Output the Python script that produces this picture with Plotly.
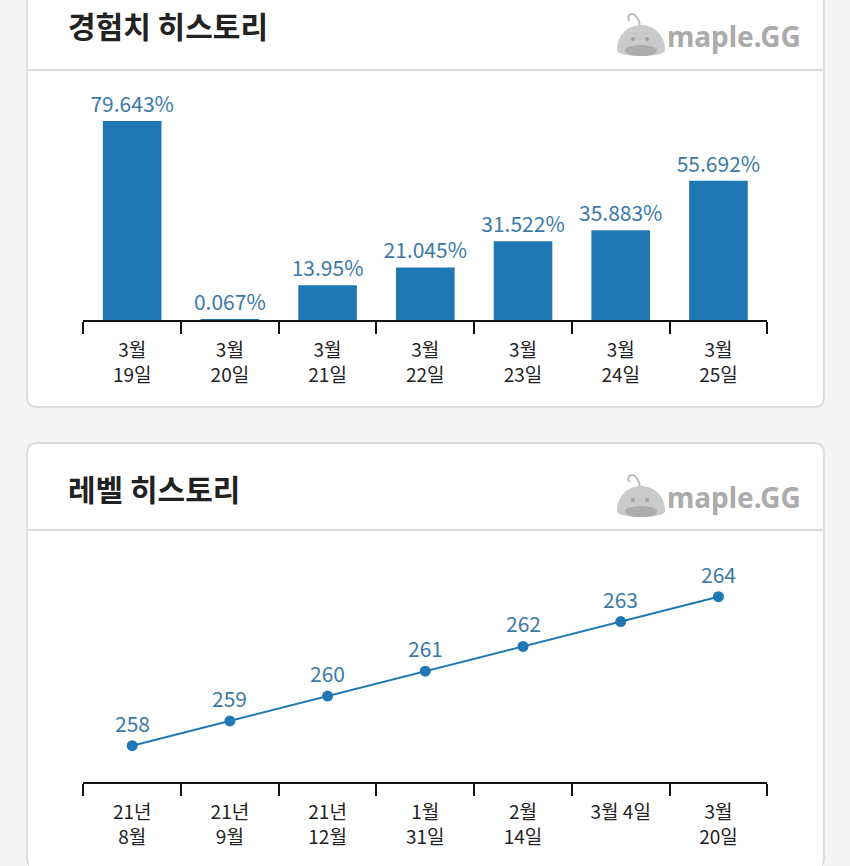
import plotly.graph_objects as go

W, H = 850, 866

# ---- data ----
exp_dates = ["3월<br>19일", "3월<br>20일", "3월<br>21일", "3월<br>22일",
             "3월<br>23일", "3월<br>24일", "3월<br>25일"]
exp_values = [79.643, 0.067, 13.95, 21.045, 31.522, 35.883, 55.692]
exp_labels = ["79.643%", "0.067%", "13.95%", "21.045%", "31.522%", "35.883%", "55.692%"]

level_dates = ["21년<br>8월<br>20일", "21년<br>9월<br>10일", "21년<br>12월<br>17일",
               "1월<br>31일", "2월<br>14일", "3월 4일", "3월<br>20일"]
level_values = [258, 259, 260, 261, 262, 263, 264]

title_exp = "경험치 히스토리"
title_level = "레벨 히스토리"
logo_text = "maple.GG"

# ---- styles ----
FONT = "Noto Sans CJK KR"
BAR_COLOR = "#1f77b4"
LABEL_COLOR = "#3b79a8"
PAGE_BG = "#f4f4f4"
BORDER = "#dcdcdc"


def px(x):
    return x / W


def py(y):
    return 1 - y / H


def pt(x, y):
    return f"{px(x)},{py(y)}"


def rounded_rect(x0, y0, x1, y1, r):
    return (f"M {pt(x0 + r, y0)} L {pt(x1 - r, y0)} "
            f"Q {pt(x1, y0)} {pt(x1, y0 + r)} L {pt(x1, y1 - r)} "
            f"Q {pt(x1, y1)} {pt(x1 - r, y1)} L {pt(x0 + r, y1)} "
            f"Q {pt(x0, y1)} {pt(x0, y1 - r)} L {pt(x0, y0 + r)} "
            f"Q {pt(x0, y0)} {pt(x0 + r, y0)} Z")


fig = go.Figure()

fig.add_trace(go.Bar(
    x=exp_dates, y=exp_values, text=exp_labels,
    textposition="outside", cliponaxis=False, constraintext="none",
    textfont=dict(family=FONT, size=21, color=LABEL_COLOR),
    marker=dict(color=BAR_COLOR, line=dict(width=0)),
    xaxis="x", yaxis="y", hoverinfo="skip",
))

fig.add_trace(go.Scatter(
    x=level_dates, y=level_values, mode="lines+markers",
    line=dict(color=BAR_COLOR, width=2),
    marker=dict(color=BAR_COLOR, size=11),
    xaxis="x2", yaxis="y2", cliponaxis=False, hoverinfo="skip",
))

annotations = []
for d, v in zip(level_dates, level_values):
    annotations.append(dict(
        x=d, y=v, xref="x2", yref="y2", text=str(v), showarrow=False,
        yshift=23, yanchor="middle",
        font=dict(family=FONT, size=21, color=LABEL_COLOR),
    ))

shapes = []
# cards
shapes.append(dict(type="path", xref="paper", yref="paper", layer="below",
                   path=rounded_rect(27, -20, 824, 407, 10),
                   fillcolor="white", line=dict(color=BORDER, width=2)))
shapes.append(dict(type="path", xref="paper", yref="paper", layer="below",
                   path=rounded_rect(27, 443, 824, 868, 10),
                   fillcolor="white", line=dict(color=BORDER, width=2)))
# header separators
for yy in (70, 530):
    shapes.append(dict(type="line", xref="paper", yref="paper", layer="below",
                       x0=px(28), x1=px(823), y0=py(yy), y1=py(yy),
                       line=dict(color=BORDER, width=2)))
# clip cover at the bottom of the second chart
shapes.append(dict(type="rect", xref="paper", yref="paper", layer="above",
                   x0=px(29), x1=px(822), y0=py(851), y1=py(866),
                   fillcolor="white", line=dict(width=0)))


def logo(dy):
    cx = 641
    s = []
    s.append(dict(type="path", xref="paper", yref="paper", layer="below",
                  path=(f"M {pt(cx - 1, 26 + dy)} C {pt(cx - 2, 18 + dy)} {pt(cx - 6, 14 + dy)} "
                        f"{pt(cx - 9, 14 + dy)} C {pt(cx - 13, 14 + dy)} {pt(cx - 14, 19 + dy)} {pt(cx - 11, 21 + dy)}"),
                  line=dict(color="#bdbdbd", width=2)))
    s.append(dict(type="path", xref="paper", yref="paper", layer="below",
                  path=(f"M {pt(cx - 24, 50 + dy)} C {pt(cx - 24, 34 + dy)} {pt(cx - 12, 25 + dy)} {pt(cx, 25 + dy)} "
                        f"C {pt(cx + 12, 25 + dy)} {pt(cx + 24, 34 + dy)} {pt(cx + 24, 50 + dy)} "
                        f"C {pt(cx + 24, 58 + dy)} {pt(cx - 24, 58 + dy)} {pt(cx - 24, 50 + dy)} Z"),
                  fillcolor="#cacaca", line=dict(width=0)))
    s.append(dict(type="circle", xref="paper", yref="paper", layer="below",
                  x0=px(cx - 16), x1=px(cx + 16), y0=py(56 + dy), y1=py(45 + dy),
                  fillcolor="#acacac", line=dict(width=0)))
    for ex in (cx - 8, cx + 6):
        s.append(dict(type="circle", xref="paper", yref="paper", layer="below",
                      x0=px(ex - 2), x1=px(ex + 2), y0=py(41 + dy), y1=py(37 + dy),
                      fillcolor="#a0a0a0", line=dict(width=0)))
    a = dict(x=px(665), y=py(36 + dy), xref="paper", yref="paper", text=logo_text,
             showarrow=False, xanchor="left", yanchor="middle",
             font=dict(family="Noto Sans", size=28, color="#ababab", weight="bold"))
    return s, a


for dy in (0, 461):
    s, a = logo(dy)
    shapes.extend(s)
    annotations.append(a)

for t, yy in ((title_exp, 25), (title_level, 488)):
    annotations.append(dict(x=px(66), y=py(yy), xref="paper", yref="paper", text=t,
                            showarrow=False, xanchor="left", yanchor="middle",
                            font=dict(family=FONT, size=30, color="#222222", weight="bold")))

xaxis_common = dict(
    type="category", showline=True, linecolor="#111111", linewidth=2,
    ticks="outside", tickson="boundaries", ticklen=12, tickwidth=2, tickcolor="#111111",
    tickfont=dict(family=FONT, size=19, color="#222222"), ticklabelstandoff=12,
    showgrid=False, zeroline=False, fixedrange=True, automargin=False,
    domain=[px(83.3), px(767.3)], range=[-0.5, 6.5],
)

fig.update_layout(
    width=W, height=H, autosize=False,
    margin=dict(l=0, r=0, t=0, b=0, pad=0, autoexpand=False),
    paper_bgcolor=PAGE_BG, plot_bgcolor="rgba(0,0,0,0)",
    showlegend=False, bargap=0.4,
    xaxis=dict(anchor="y", **xaxis_common),
    yaxis=dict(domain=[py(320), py(90)], range=[0, 92], visible=False, fixedrange=True, automargin=False),
    xaxis2=dict(anchor="y2", **xaxis_common),
    yaxis2=dict(domain=[py(782), py(550)], range=[256.54, 265.88], visible=False, fixedrange=True, automargin=False),
    shapes=shapes, annotations=annotations,
    font=dict(family=FONT),
)

post = """
document.documentElement.style.margin='0';
document.body.style.margin='0';
document.body.style.overflow='hidden';
document.documentElement.style.overflow='hidden';
"""

fig.write_html("out.html", config={"displayModeBar": False}, post_script=post)
